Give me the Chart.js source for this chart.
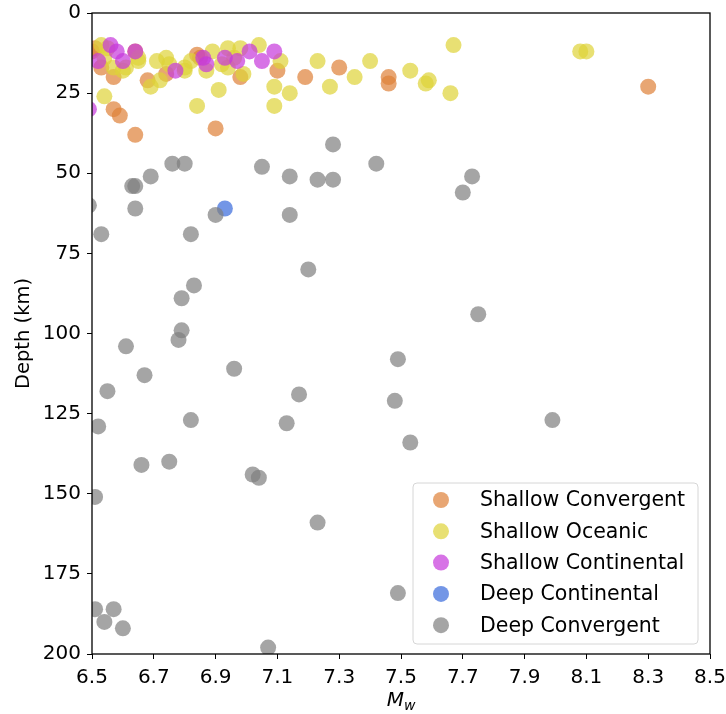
<!DOCTYPE html>
<html>
<head>
<meta charset="utf-8">
<script src="https://cdn.jsdelivr.net/npm/chart.js@4.4.0/dist/chart.umd.min.js"></script>
<style>
  html, body { margin: 0; padding: 0; background: #fff; }
  #wrap { width: 726px; height: 714px; }
</style>
</head>
<body>
<div id="wrap"><canvas id="quakeChart" width="726" height="714"></canvas></div>
<script>
// magnitude (Mw) and depth (km) per group
const shallowConvergentMw = [6.50, 6.51, 6.53, 6.57, 6.57, 6.59, 6.64, 6.64, 6.68, 6.74, 6.84, 6.85, 6.90, 6.98, 7.10, 7.19, 7.30, 7.46, 7.46, 8.30];
const shallowConvergentDepth = [12, 11, 17, 20, 30, 32, 38, 12, 21, 19, 13, 14, 36, 20, 18, 20, 17, 20, 22, 23];

const shallowOceanicMw = [6.53, 6.54, 6.55, 6.57, 6.60, 6.61, 6.54, 6.65, 6.65, 6.69, 6.71, 6.72, 6.74, 6.75, 6.80, 6.82, 6.80, 6.84, 6.87, 6.89, 6.91, 6.92, 6.94, 6.94, 6.96, 6.98, 6.99, 7.04, 7.09, 7.09, 7.11, 7.14, 7.23, 7.27, 7.35, 7.40, 7.53, 7.58, 7.59, 7.66, 7.67, 8.08, 8.10];
const shallowOceanicDepth = [10, 14, 11, 17, 18, 17, 26, 15, 14, 23, 15, 21, 14, 16, 18, 15, 17, 29, 18, 12, 24, 16, 11, 17, 14, 11, 19, 10, 23, 29, 15, 25, 15, 23, 20, 15, 18, 22, 21, 25, 10, 12, 12];

const shallowContinentalMw = [6.49, 6.52, 6.56, 6.58, 6.60, 6.64, 6.77, 6.86, 6.87, 6.93, 6.97, 7.01, 7.05, 7.09];
const shallowContinentalDepth = [30, 15, 10, 12, 15, 12, 18, 14, 16, 14, 15, 12, 15, 12];

const deepContinentalMw = [6.47, 6.93];
const deepContinentalDepth = [56, 61];

const deepConvergentMw = [6.49, 6.51, 6.51, 6.52, 6.53, 6.54, 6.55, 6.57, 6.60, 6.61, 6.63, 6.64, 6.64, 6.66, 6.67, 6.69, 6.75, 6.76, 6.78, 6.79, 6.79, 6.80, 6.82, 6.82, 6.83, 6.90, 6.96, 7.02, 7.04, 7.05, 7.07, 7.13, 7.14, 7.14, 7.17, 7.20, 7.23, 7.23, 7.28, 7.28, 7.42, 7.48, 7.49, 7.49, 7.53, 7.70, 7.73, 7.75, 7.99];
const deepConvergentDepth = [60, 151, 186, 129, 69, 190, 118, 186, 192, 104, 54, 54, 61, 141, 113, 51, 140, 47, 102, 89, 99, 47, 69, 127, 85, 63, 111, 144, 145, 48, 198, 128, 51, 63, 119, 80, 52, 159, 41, 52, 47, 121, 108, 181, 134, 56, 51, 94, 127];

const mwTicks = [6.5, 6.7, 6.9, 7.1, 7.3, 7.5, 7.7, 7.9, 8.1, 8.3, 8.5];
const depthTicks = [0, 25, 50, 75, 100, 125, 150, 175, 200];

const groups = [
  { label: "Shallow Convergent", mw: shallowConvergentMw, depth: shallowConvergentDepth, color: "rgba(222, 128, 55, 0.7)" },
  { label: "Shallow Oceanic", mw: shallowOceanicMw, depth: shallowOceanicDepth, color: "rgba(222, 211, 55, 0.7)" },
  { label: "Shallow Continental", mw: shallowContinentalMw, depth: shallowContinentalDepth, color: "rgba(198, 55, 219, 0.7)" },
  { label: "Deep Continental", mw: deepContinentalMw, depth: deepContinentalDepth, color: "rgba(55, 105, 219, 0.7)" },
  { label: "Deep Convergent", mw: deepConvergentMw, depth: deepConvergentDepth, color: "rgba(127, 127, 127, 0.7)" }
];

const FONT = "'DejaVu Sans', sans-serif";

// first group at the bottom, last group on top (like matplotlib call order)
const datasets = groups.map((g, i) => ({
  label: g.label,
  data: g.mw.map((m, j) => ({ x: m, y: g.depth[j] })),
  backgroundColor: g.color,
  pointRadius: 8,
  pointHoverRadius: 8,
  pointBorderWidth: 0,
  order: groups.length - i,
  clip: 0
}));

const frame = {
  id: "frame",
  afterDraw(chart) {
    const { ctx, chartArea: a } = chart;
    ctx.save();
    ctx.strokeStyle = "#000";
    ctx.lineWidth = 1.3;
    ctx.strokeRect(a.left, a.top, a.right - a.left, a.bottom - a.top);

    // x axis title: italic M with subscript w
    const cx = (a.left + a.right) / 2;
    ctx.fillStyle = "#000";
    ctx.textBaseline = "alphabetic";
    ctx.font = "italic 20px " + FONT;
    const mW = ctx.measureText("M").width;
    ctx.font = "italic 14px " + FONT;
    const wW = ctx.measureText("w").width;
    const start = cx - (mW + wW) / 2;
    ctx.font = "italic 20px " + FONT;
    ctx.textAlign = "left";
    ctx.fillText("M", start, a.bottom + 52);
    ctx.font = "italic 14px " + FONT;
    ctx.fillText("w", start + mW, a.bottom + 56);
    ctx.restore();
  }
};

const legendBox = {
  id: "legendBox",
  afterDraw(chart) {
    const { ctx, chartArea: a } = chart;
    const w = 285, h = 161;
    const x0 = a.right - 12 - w, y0 = a.bottom - 10 - h;
    ctx.save();
    ctx.beginPath();
    ctx.roundRect(x0, y0, w, h, 4);
    ctx.fillStyle = "rgba(255,255,255,0.8)";
    ctx.fill();
    ctx.strokeStyle = "#d6d6d6";
    ctx.lineWidth = 1;
    ctx.stroke();
    ctx.font = "20.5px " + FONT;
    ctx.textBaseline = "middle";
    ctx.textAlign = "left";
    groups.forEach((g, i) => {
      const yy = y0 + 17 + i * 31.3;
      ctx.beginPath();
      ctx.arc(x0 + 28, yy, 8, 0, Math.PI * 2);
      ctx.fillStyle = g.color;
      ctx.fill();
      ctx.fillStyle = "#000";
      ctx.fillText(g.label, x0 + 67, yy + 1);
    });
    ctx.restore();
  }
};

new Chart(document.getElementById("quakeChart"), {
  type: "scatter",
  data: { datasets },
  plugins: [frame, legendBox],
  options: {
    responsive: false,
    animation: false,
    events: [],
    layout: { padding: { top: 13, right: 16, left: 0, bottom: 0 } },
    plugins: { legend: { display: false }, tooltip: { enabled: false } },
    scales: {
      x: {
        type: "linear",
        min: 6.5,
        max: 8.5,
        afterFit: (s) => { s.height = 60; s.paddingLeft = 0; s.paddingRight = 0; },
        afterBuildTicks: (s) => { s.ticks = mwTicks.map((v) => ({ value: v })); },
        grid: { display: true, drawOnChartArea: false, drawTicks: true, tickLength: 5, color: "#000", lineWidth: 1 },
        border: { display: false },
        ticks: {
          color: "#000",
          font: { family: FONT, size: 20 },
          padding: 7,
          maxRotation: 0,
          autoSkip: false,
          callback: (v) => v.toFixed(1)
        }
      },
      y: {
        type: "linear",
        reverse: true,
        min: 0,
        max: 200,
        afterFit: (s) => { s.width = 92; s.paddingTop = 0; s.paddingBottom = 0; },
        afterBuildTicks: (s) => { s.ticks = depthTicks.map((v) => ({ value: v })); },
        grid: { display: true, drawOnChartArea: false, drawTicks: true, tickLength: 5, color: "#000", lineWidth: 1 },
        border: { display: false },
        title: {
          display: true,
          text: "Depth (km)",
          color: "#000",
          font: { family: FONT, size: 19.5 },
          padding: { top: 12, bottom: 0 }
        },
        ticks: {
          color: "#000",
          font: { family: FONT, size: 20 },
          padding: 6,
          autoSkip: false,
          callback: (v) => String(v)
        }
      }
    }
  }
});
</script>
</body>
</html>
